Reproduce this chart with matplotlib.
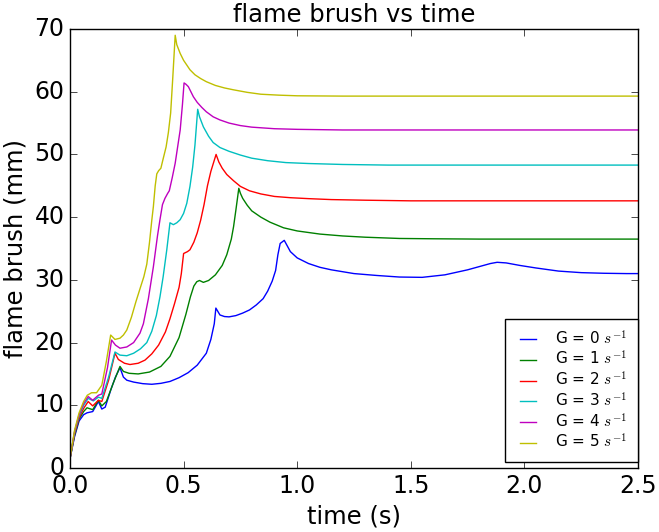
import matplotlib
matplotlib.use("Agg")
import matplotlib.pyplot as plt

plt.style.use("classic")

# ---- data ----
t_g0 = [0.0, 0.02, 0.04, 0.06, 0.075, 0.10, 0.125, 0.14, 0.155, 0.18, 0.20, 0.22, 0.235, 0.25,
        0.28, 0.32, 0.36, 0.40, 0.44, 0.48, 0.52, 0.56, 0.60, 0.62, 0.635, 0.642, 0.66, 0.68,
        0.70, 0.73, 0.76, 0.79, 0.82, 0.85, 0.87, 0.89, 0.905, 0.915, 0.925, 0.943, 0.97, 1.0,
        1.05, 1.10, 1.15, 1.25, 1.35, 1.45, 1.55, 1.65, 1.75, 1.85, 1.88, 1.92, 1.98, 2.05,
        2.15, 2.25, 2.35, 2.45, 2.5]
y_g0 = [1.5, 5.0, 7.5, 8.5, 8.8, 9.0, 10.6, 9.4, 9.7, 12.5, 14.5, 16.0, 14.5, 14.0,
        13.7, 13.45, 13.35, 13.5, 13.8, 14.4, 15.2, 16.4, 18.3, 20.5, 23.0, 25.5, 24.4, 24.15,
        24.1, 24.3, 24.7, 25.2, 26.0, 27.0, 28.2, 29.8, 31.5, 34.0, 35.8, 36.3, 34.5, 33.5,
        32.6, 32.0, 31.6, 31.0, 30.7, 30.45, 30.4, 30.8, 31.6, 32.6, 32.8, 32.7, 32.3, 31.9,
        31.4, 31.15, 31.05, 31.0, 31.0]

t_g1 = [0.0, 0.02, 0.04, 0.06, 0.075, 0.10, 0.125, 0.14, 0.16, 0.19, 0.22, 0.235, 0.26, 0.30,
        0.35, 0.40, 0.44, 0.48, 0.51, 0.53, 0.545, 0.558, 0.57, 0.587, 0.61, 0.64, 0.67, 0.69,
        0.71, 0.72, 0.73, 0.743, 0.75, 0.76, 0.78, 0.80, 0.84, 0.88, 0.94, 1.0, 1.1, 1.2,
        1.3, 1.45, 1.6, 1.8, 2.0, 2.5]
y_g1 = [1.5, 5.2, 7.8, 9.0, 9.6, 9.3, 10.8, 9.9, 10.6, 13.5, 16.2, 15.4, 15.1, 15.0,
        15.3, 16.2, 17.8, 20.8, 24.5, 27.3, 29.0, 29.7, 29.9, 29.6, 29.9, 30.8, 32.3, 34.0,
        36.5, 38.5, 41.1, 44.6, 43.8, 43.0, 41.9, 41.0, 40.0, 39.2, 38.3, 37.8, 37.3, 37.0,
        36.8, 36.6, 36.55, 36.5, 36.5, 36.5]

t_g2 = [0.0, 0.02, 0.04, 0.06, 0.08, 0.10, 0.125, 0.14, 0.17, 0.198, 0.213, 0.24, 0.264, 0.30,
        0.33, 0.36, 0.39, 0.42, 0.44, 0.46, 0.48, 0.49, 0.50, 0.517, 0.528, 0.545, 0.56, 0.575,
        0.59, 0.605, 0.62, 0.643, 0.655, 0.67, 0.69, 0.72, 0.75, 0.79, 0.84, 0.90, 0.97,
        1.05, 1.15, 1.3, 1.5, 2.0, 2.5]
y_g2 = [1.5, 5.5, 8.0, 9.5, 10.6, 9.9, 10.8, 10.6, 14.0, 18.3, 17.3, 16.7, 16.5, 16.7,
        17.2, 18.2, 19.6, 21.7, 23.8, 26.2, 28.8, 31.0, 34.2, 34.5, 34.8, 36.0, 37.5, 39.5,
        42.0, 45.0, 47.3, 50.0, 48.8, 47.8, 46.8, 45.8, 44.9, 44.2, 43.7, 43.3, 43.1,
        42.95, 42.8, 42.7, 42.6, 42.6, 42.6]

t_g3 = [0.0, 0.02, 0.04, 0.06, 0.08, 0.103, 0.125, 0.14, 0.17, 0.198, 0.22, 0.25, 0.28, 0.31,
        0.338, 0.36, 0.38, 0.396, 0.41, 0.426, 0.44, 0.455, 0.47, 0.485, 0.50, 0.514, 0.528,
        0.54, 0.55, 0.562, 0.57, 0.587, 0.61, 0.63, 0.66, 0.70, 0.75, 0.80, 0.87, 0.95, 1.05,
        1.2, 1.4, 2.0, 2.5]
y_g3 = [1.5, 5.7, 8.3, 10.0, 11.1, 10.7, 11.3, 11.1, 14.5, 18.5, 18.0, 17.9, 18.3, 19.0,
        20.0, 21.8, 24.3, 27.3, 30.5, 34.8, 39.1, 38.8, 39.1, 39.6, 40.6, 42.2, 44.9,
        48.0, 51.5, 57.2, 56.0, 54.4, 52.9, 51.9, 51.1, 50.5, 49.9, 49.4, 49.0, 48.7, 48.55,
        48.4, 48.3, 48.3, 48.3]

t_g4 = [0.0, 0.02, 0.04, 0.06, 0.08, 0.10, 0.125, 0.14, 0.165, 0.183, 0.20, 0.22, 0.25, 0.28,
        0.308, 0.323, 0.345, 0.367, 0.385, 0.396, 0.407, 0.418, 0.43, 0.437, 0.45, 0.463,
        0.475, 0.485, 0.495, 0.502, 0.51, 0.521, 0.532, 0.543, 0.56, 0.58, 0.60, 0.63, 0.66,
        0.70, 0.75, 0.80, 0.9, 1.0, 1.2, 2.0, 2.5]
y_g4 = [1.5, 5.8, 8.5, 10.3, 11.4, 10.8, 11.6, 11.8, 16.0, 20.4, 19.6, 19.1, 19.3, 20.0,
        21.5, 23.0, 27.0, 32.1, 37.0, 39.6, 42.0, 43.0, 43.8, 44.2, 46.3, 48.6,
        51.5, 53.9, 58.0, 61.4, 61.2, 60.8, 60.0, 59.2, 58.3, 57.5, 56.8, 56.0, 55.5,
        55.0, 54.6, 54.35, 54.1, 54.0, 53.9, 53.9, 53.9]

t_g5 = [0.0, 0.02, 0.04, 0.06, 0.076, 0.095, 0.117, 0.14, 0.16, 0.179, 0.198, 0.22, 0.235,
        0.25, 0.27, 0.29, 0.31, 0.325, 0.338, 0.35, 0.36, 0.367, 0.375, 0.382, 0.39, 0.40,
        0.41, 0.423, 0.433, 0.443, 0.452, 0.463, 0.47, 0.485, 0.50, 0.515, 0.528, 0.55, 0.575,
        0.60, 0.64, 0.68, 0.72, 0.78, 0.84, 0.92, 1.0, 1.2, 2.0, 2.5]
y_g5 = [1.5, 6.0, 8.8, 10.6, 11.6, 12.0, 12.0, 13.2, 17.0, 21.2, 20.5, 20.7, 21.2,
        22.0, 24.0, 26.5, 28.8, 30.5, 32.5, 36.0, 39.5, 41.7, 45.0, 46.9, 47.4, 47.8,
        49.3, 51.2, 53.5, 56.6, 62.0, 69.0, 67.5, 66.1, 65.0, 64.2, 63.5, 62.7, 62.1,
        61.6, 61.0, 60.6, 60.3, 59.9, 59.6, 59.45, 59.35, 59.3, 59.3, 59.3]

series = [(t_g0, y_g0), (t_g1, y_g1), (t_g2, y_g2), (t_g3, y_g3), (t_g4, y_g4), (t_g5, y_g5)]
labels = ["G = 0 $s^{-1}$", "G = 1 $s^{-1}$", "G = 2 $s^{-1}$",
          "G = 3 $s^{-1}$", "G = 4 $s^{-1}$", "G = 5 $s^{-1}$"]
colors = ["b", "g", "r", "c", "m", "y"]

fig = plt.figure(figsize=(6.59, 5.32), dpi=100, facecolor="white")
ax = fig.add_axes([70 / 659, 1 - 468 / 532, 568 / 659, 439 / 532])

for (t, y), lab, c in zip(series, labels, colors):
    ax.plot(t, y, color=c, lw=1.0, label=lab)

ax.set_xlim(0, 2.5)
ax.set_ylim(0, 70)
ax.set_xticks([0.0, 0.5, 1.0, 1.5, 2.0, 2.5])
ax.set_yticks([0, 10, 20, 30, 40, 50, 60, 70])
ax.tick_params(labelsize=17, direction="in", top=True, right=True, length=5)
ax.set_title("flame brush vs time", fontsize=17.5)
ax.set_xlabel("time (s)", fontsize=17.5)
ax.set_ylabel("flame brush (mm)", fontsize=17.5)

leg = ax.legend(loc="lower right", bbox_to_anchor=(1.0, 0.014), borderaxespad=0.0,
                fontsize=11, handlelength=1.6, handletextpad=1.0, borderpad=0.7,
                labelspacing=0.17, fancybox=False, numpoints=2)
leg.get_frame().set_edgecolor("black")

fig.savefig("out.png", dpi=100, facecolor="white")
